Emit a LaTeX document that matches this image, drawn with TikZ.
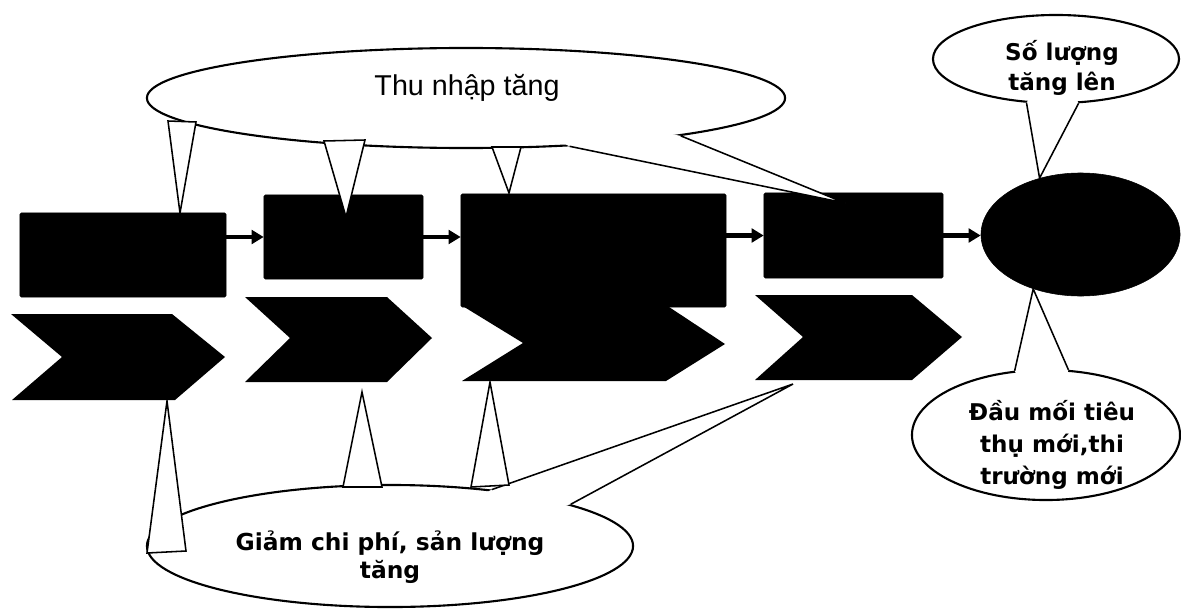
\documentclass[tikz,border=0pt]{standalone}
\usepackage{fontspec}
\setmainfont{Liberation Sans}
\newfontfamily\bubblefont{DejaVu Sans}
\usetikzlibrary{arrows.meta,shapes.geometric}

\begin{document}
\begin{tikzpicture}[
  x=0.025cm,
  y=-0.025cm,
  >={Triangle[length=3mm,width=3.4mm]},
  box/.style={draw, fill=black, rounded corners=1pt, inner sep=0pt},
  hub/.style={draw, fill=black, ellipse, inner sep=0pt},
  chev/.style={fill=black},
  bubble/.style={draw, fill=white, ellipse, line width=1.5pt, inner sep=0pt},
  tail/.style={draw, fill=white, line width=1.1pt, line join=miter},
  tailside/.style={line width=1.1pt, line join=miter},
  note/.style={align=center, inner sep=0pt, font=\bubblefont\bfseries},
  arrow/.style={->, line width=3.2pt}
]
  \useasboundingbox (0,0) rectangle (1181,611);

  \fill[chev] (11,314) -- (172,314) -- (225,357) -- (175,400) -- (12,400) -- (62,357) -- cycle;
  \fill[chev] (245,297) -- (387,297) -- (432,338) -- (387,382) -- (245,382) -- (290,338) -- cycle;
  \fill[chev] (461,305) -- (666,305) -- (725,344) -- (666,381) -- (462,381) -- (523,343) -- cycle;
  \fill[chev] (755,295) -- (912,295) -- (962,337) -- (912,380) -- (755,380) -- (803,337) -- cycle;

  \node[box, minimum width=5.15cm, minimum height=2.1cm] (b1) at (123,255) {};
  \node[box, minimum width=3.975cm, minimum height=2.1cm] (b2) at (343.5,237) {};
  \node[box, minimum width=6.625cm, minimum height=2.825cm] (b3) at (593.5,250.5) {};
  \node[box, minimum width=4.475cm, minimum height=2.125cm] (b4) at (853.5,235.5) {};
  \node[hub, minimum width=4.975cm, minimum height=3.075cm] (mkt) at (1080.5,234.5) {};

  \draw[arrow] (b1.east |- b2.west) -- (b2.west);
  \draw[arrow] (b2.east) -- (b2.east -| b3.west);
  \draw[arrow] (b4.west -| b3.east) -- (b4.west);
  \draw[arrow] (b4.east) -- (b4.east -| mkt.west);

  % thu nhap
  \node[bubble, minimum width=15.95cm, minimum height=2.5cm] (inc) at (466,98) {};
  \fill[white] (inc.center) -- (inc.-25) -- (845,203) -- (inc.-10) -- cycle;
  \draw[tailside] (inc.-25) -- (845,203) -- (inc.-10);
  \draw[tail] (168,121) -- (180,213) -- (196,122) -- cycle;
  \draw[tail] (324,141) -- (346,217) -- (365,140) -- cycle;
  \draw[tail] (492,147) -- (509,193) -- (521,147) -- cycle;
  \node[font=\fontsize{20.4}{24}\selectfont, inner sep=0pt] (inctext) at (467,88) {Thu nhập tăng};

  % chi phi
  \node[bubble, minimum width=12.15cm, minimum height=3.05cm] (cost) at (390,546) {};
  \fill[white] (cost.center) -- (cost.29) -- (793,384) -- (cost.13) -- cycle;
  \draw[tailside] (cost.29) -- (793,384) -- (cost.13);
  \draw[tail] (147,553) -- (167,401) -- (186,551) -- cycle;
  \draw[tail] (343,487) -- (362,392) -- (382,487) -- cycle;
  \draw[tail] (471,487) -- (490,382) -- (509,485) -- cycle;
  \node[note, font=\bubblefont\bfseries\fontsize{16.6}{20}\selectfont] (costtext) at (390,557) {Giảm chi phí, sản lượng\\tăng};

  % so luong, thi truong
  \node[bubble, minimum width=6.15cm, minimum height=2.2cm] (qty) at (1056,59) {};
  \fill[white] (qty.center) -- (qty.236) -- (mkt.126) -- (qty.297) -- cycle;
  \draw[tailside] (qty.236) -- (mkt.126) -- (qty.297);
  \node[note, font=\bubblefont\bfseries\fontsize{16.4}{21.3}\selectfont] (qtytext) at (1062,68) {Số lượng\\tăng lên};

  \node[bubble, minimum width=6.7cm, minimum height=3.25cm] (deal) at (1046,435) {};
  \fill[white] (deal.center) -- (deal.116) -- (mkt.229) -- (deal.71) -- cycle;
  \draw[tailside] (deal.116) -- (mkt.229) -- (deal.71);
  \node[note, font=\bubblefont\bfseries\fontsize{16.4}{22.8}\selectfont] (dealtext) at (1052,445) {Đầu mối tiêu\\thụ mới,thi\\trường mới};
\end{tikzpicture}
\end{document}
